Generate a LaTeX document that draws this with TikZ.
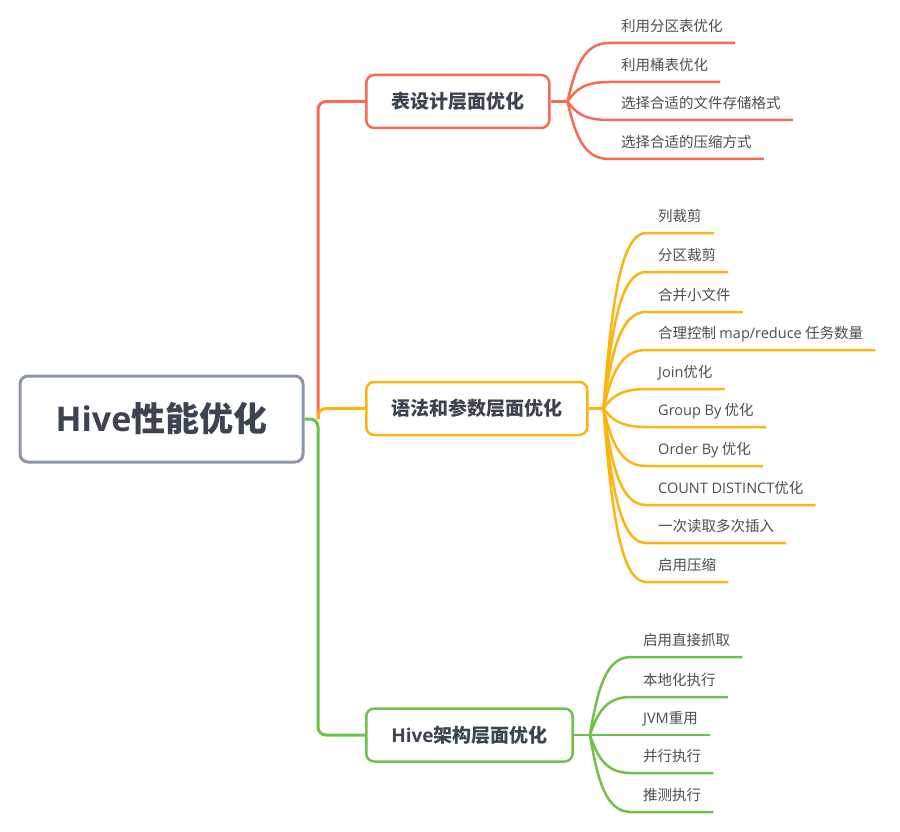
\documentclass[tikz,border=0pt]{standalone}
\usepackage{fontspec}
\setmainfont{Noto Sans CJK SC}
\newfontfamily\lat{Open Sans}
\newcommand{\en}[1]{{\lat #1}}
\usetikzlibrary{calc}

\definecolor{rootline}{HTML}{8C98A9}
\definecolor{inkdark}{HTML}{3B4450}
\definecolor{leafink}{HTML}{4D4D4D}
\definecolor{tablered}{HTML}{FA6A53}
\definecolor{syntaxamber}{HTML}{FFB30F}
\definecolor{archgreen}{HTML}{6CC24A}

\begin{document}
\begin{tikzpicture}[x=1pt,y=-1pt,
    rootbox/.style={draw=rootline,line width=3pt,rounded corners=8pt,fill=white,
      minimum width=283pt,minimum height=86pt,text=inkdark,
      font=\fontsize{34}{40}\selectfont\bfseries},
    branch/.style={draw=#1,line width=2.5pt,rounded corners=8pt,fill=white,
      minimum height=53pt,inner xsep=25pt,anchor=west,text=inkdark,
      font=\fontsize{19}{22}\selectfont\bfseries},
    leaf/.style={anchor=south west,inner xsep=12pt,inner ysep=8pt,
      text height=11pt,text depth=3pt,text=leafink,
      font=\fontsize{14.5}{17}\selectfont},
    link/.style={line width=2.5pt,draw=#1}]

  \fill[white] (0,0) rectangle (900,832);
  \useasboundingbox (0,0) rectangle (900,832);

  % root and the three branches
  \node[rootbox] (root) at (161.5,419) {\en{Hive}性能优化};
  \node[branch=tablered]    (b1) at (365,101.5) {表设计层面优化};
  \node[branch=syntaxamber] (b2) at (365,408.5) {语法和参数层面优化};
  \node[branch=archgreen]   (b3) at (365,735)   {\en{Hive}架构层面优化};

  \coordinate (hub) at (318,419);
  \draw[link=tablered,line width=3pt,rounded corners=8pt] (hub) |- (b1.west);
  \draw[link=archgreen,line width=3pt,rounded corners=8pt] (root.east) -- (hub) |- (b3.west);
  \draw[link=syntaxamber,line width=3pt,rounded corners=8pt] (hub) |- (b2.west);

  \coordinate (f1) at ($(b1.east)+(17,0)$);
  \coordinate (f2) at ($(b2.east)+(15,0)$);
  \coordinate (f3) at ($(b3.east)+(16,0)$);
  \draw[link=tablered] (b1.east) -- (f1);
  \draw[link=syntaxamber] (b2.east) -- (f2);
  \draw[link=archgreen] (b3.east) -- (f3);

  % leaves
  \foreach \y/\t [count=\i] in {43/利用分区表优化,82/利用桶表优化,
      120/选择合适的文件存储格式,159/选择合适的压缩方式}{
    \node[leaf] (l1-\i) at (609,\y) {\t};
    \draw[link=tablered] (f1) .. controls +(8,{0.6*(\y-101.5)})
      and +(-25,0) .. (l1-\i.south west) -- (l1-\i.south east);
  }
  \foreach \y/\t [count=\i] in {233/列裁剪,272/分区裁剪,312/合并小文件,
      350/{合理控制 \en{map/reduce} 任务数量},389/{\en{Join}优化},
      427/{\en{Group By} 优化},466/{\en{Order By} 优化},
      505/{\en{COUNT DISTINCT}优化},543/一次读取多次插入,582/启用压缩}{
    \node[leaf] (l2-\i) at (646,\y) {\t};
    \draw[link=syntaxamber] (f2) .. controls +(8,{0.6*(\y-408.5)})
      and +(-25,0) .. (l2-\i.south west) -- (l2-\i.south east);
  }
  \foreach \y/\t [count=\i] in {657/启用直接抓取,697/本地化执行,
      735/{\en{JVM}重用},773/并行执行,812/推测执行}{
    \node[leaf] (l3-\i) at (631,\y) {\t};
    \draw[link=archgreen] (f3) .. controls +(8,{0.6*(\y-735)})
      and +(-25,0) .. (l3-\i.south west) -- (l3-\i.south east);
  }
\end{tikzpicture}
\end{document}
